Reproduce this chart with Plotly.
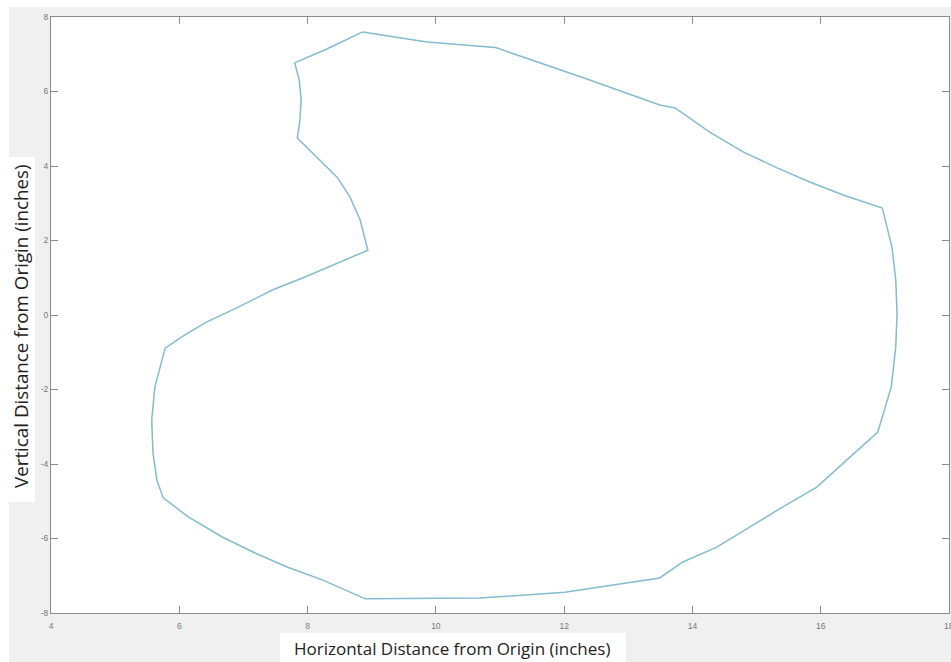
import plotly.graph_objects as go

# Outline of the shape (inches), traced clockwise from the top
x_in = [8.86, 9.86, 10.93, 12.40, 13.49, 13.73, 14.27, 14.79, 15.32, 15.83, 16.35, 16.96,
        17.11, 17.17, 17.19, 17.17, 17.10, 16.89,
        16.46, 15.94, 15.41, 14.90, 14.38, 13.85, 13.49,
        12.01, 10.69, 8.90,
        8.23, 7.69, 7.18, 6.67, 6.14, 5.75,
        5.65, 5.59, 5.57, 5.62, 5.78,
        6.04, 6.40, 6.92, 7.45, 7.96, 8.47, 8.94,
        8.82, 8.66, 8.46, 8.19, 7.84,
        7.88, 7.90, 7.87, 7.80,
        8.30, 8.86]
y_in = [7.60, 7.33, 7.18, 6.31, 5.64, 5.56, 4.91, 4.38, 3.95, 3.57, 3.22, 2.87,
        1.83, 0.94, 0.05, -0.86, -1.93, -3.14,
        -3.81, -4.62, -5.15, -5.69, -6.23, -6.63, -7.06,
        -7.44, -7.60, -7.62,
        -7.11, -6.77, -6.39, -5.96, -5.42, -4.91,
        -4.43, -3.70, -2.82, -1.93, -0.89,
        -0.59, -0.21, 0.21, 0.67, 1.02, 1.40, 1.74,
        2.55, 3.17, 3.70, 4.16, 4.75,
        5.23, 5.77, 6.31, 6.77,
        7.14, 7.60]

x_ticks = [4, 6, 8, 10, 12, 14, 16, 18]
y_ticks = [-8, -6, -4, -2, 0, 2, 4, 6, 8]

x_title = "Horizontal Distance from Origin (inches)"
y_title = "Vertical Distance from Origin (inches)"

TICK_FONT = dict(family="Liberation Sans", size=8.5, color="#777777")

fig = go.Figure()
fig.add_trace(go.Scatter(x=x_in, y=y_in, mode="lines",
                         line=dict(color="#84bbcf", width=1.5),
                         hoverinfo="skip", showlegend=False))

axis_common = dict(showgrid=False, zeroline=False, showline=True, mirror="ticks",
                   linecolor="#8a8a8a", linewidth=1, ticks="inside", ticklen=7,
                   tickcolor="#8a8a8a", tickwidth=1, tickfont=TICK_FONT)

# last x tick label sits on the window edge and is drawn separately (it is cut off there)
fig.update_xaxes(range=[4, 18], tickvals=x_ticks,
                 ticktext=[str(v) for v in x_ticks[:-1]] + [""],
                 ticklabelstandoff=5, **axis_common)
fig.update_yaxes(range=[-8, 8], tickvals=y_ticks, ticktext=[str(v) for v in y_ticks], **axis_common)

W, H = 951, 662
L, R, T, B = 51, 2, 17, 49
PW, PH = W - L - R, H - T - B

def px(xp):
    return (xp - L) / PW

def py(yp):
    return (H - B - yp) / PH

shapes = [
    dict(type="rect", xref="paper", yref="paper", x0=px(9), x1=px(970), y0=py(670), y1=py(7),
         fillcolor="#f0f0f0", line=dict(width=0), layer="below"),
    dict(type="rect", xref="paper", yref="paper", x0=0, x1=1, y0=0, y1=1,
         fillcolor="white", line=dict(width=0), layer="below"),
    dict(type="rect", xref="paper", yref="paper", x0=px(-5), x1=px(35), y0=py(502), y1=py(157),
         fillcolor="white", line=dict(width=0), layer="below"),
    dict(type="rect", xref="paper", yref="paper", x0=px(280), x1=px(626), y0=py(670), y1=py(633),
         fillcolor="white", line=dict(width=0), layer="below"),
]

annotations = [
    dict(text=str(x_ticks[-1]), xref="x", yref="paper", x=x_ticks[-1], y=py(626), showarrow=False,
         xanchor="center", yanchor="middle", font=TICK_FONT),
    dict(text=x_title, xref="paper", yref="paper", x=px(452), y=py(648), showarrow=False,
         xanchor="center", yanchor="middle",
         font=dict(family="Open Sans", size=17, color="#222222")),
    dict(text=y_title, xref="paper", yref="paper", x=px(21), y=py(326), showarrow=False,
         xanchor="center", yanchor="middle", textangle=-90,
         font=dict(family="Open Sans", size=18.8, color="#222222")),
]

fig.update_layout(width=W, height=H, margin=dict(l=L, r=R, t=T, b=B),
                  paper_bgcolor="white", plot_bgcolor="white",
                  shapes=shapes, annotations=annotations, showlegend=False)

fig.write_html("out.html", config={"displayModeBar": False},
               post_script="document.body.style.margin='0';document.body.style.overflow='hidden';")
